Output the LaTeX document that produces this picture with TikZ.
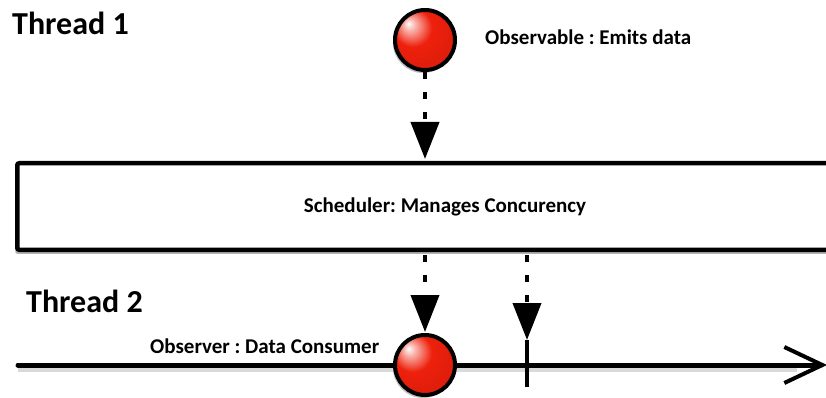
\documentclass[tikz,border=0pt]{standalone}
\usepackage{fontspec}
\setmainfont{Carlito}
\frenchspacing
\usetikzlibrary{arrows.meta,shadows}
\definecolor{ballred}{RGB}{238,32,12}
\pgfdeclareradialshading{redball}{\pgfpoint{-14bp}{14bp}}{%
  color(0bp)=(white);
  color(5bp)=(ballred!35!white);
  color(16bp)=(ballred);
  color(34bp)=(ballred!92!black);
  color(46bp)=(ballred!70!black);
  color(60bp)=(ballred!55!black)}
\begin{document}
\begin{tikzpicture}[x=1pt,y=-1pt,
  thread/.style={font=\bfseries\fontsize{32}{36}\selectfont, anchor=base west, inner sep=0pt},
  lbl/.style={font=\bfseries\fontsize{21}{24}\selectfont, anchor=base west, inner sep=0pt},
  ball/.style={circle, minimum size=60pt, inner sep=0pt, line width=4pt, draw=black,
    shading=redball, drop shadow={shadow xshift=-2pt, shadow yshift=-3pt, opacity=0.25, fill=black}},
  schedbox/.style={draw=black, line width=4.5pt, fill=white, rounded corners=2pt,
    minimum width=855.5pt, minimum height=86.5pt, inner sep=0pt,
    font=\bfseries\fontsize{21}{24}\selectfont,
    drop shadow={shadow xshift=-2pt, shadow yshift=-4pt, opacity=0.3, fill=black}},
  flow/.style={line width=4pt, dash pattern=on 7pt off 13pt,
    -{Triangle[length=37pt, width=28pt]}},
  timeline/.style={line width=5pt, line cap=round,
    -{Straight Barb[length=38pt, width=36pt, line width=4pt]}},
  tickline/.style={line width=4pt},
  shadowline/.style={line width=6pt, draw=black, opacity=0.15}
]
\useasboundingbox (0,0) rectangle (826,398);

% texts
\node[thread] (t1) at (12,35) {Thread 1};
\node[thread] (t2) at (26,312) {Thread 2};

% scheduler box
\node[schedbox] (sched) at (445,206.5) {Scheduler: Manages Concurency};

% timeline
\coordinate (tl0) at (18,365);
\coordinate (tl1) at (827,365);
\coordinate (tk) at (527,365);
\coordinate (tktop) at (527,340);
\coordinate (tkbot) at (527,387);
\draw[shadowline] ([yshift=-4pt]tl0) -- ([yshift=-4pt,xshift=-30pt]tl1);
\draw[timeline] (tl0) -- (tl1);
\draw[tickline] (tktop) -- (tkbot);

% balls
\node[ball] (obs) at (425,40) {};
\node[ball] (cons) at (425,365) {};

% labels
\node[lbl] (obslbl) at (485,45) {Observable : Emits data};
\node[lbl] (conslbl) at (150,353) {Observer : Data Consumer};

% arrows
\draw[flow, shorten >=2pt] (obs.south) -- (obs.south |- sched.north);
\draw[flow, shorten <=3pt, shorten >=1pt] (cons.north |- sched.south) -- (cons.north);
\draw[flow, shorten <=3pt] (tktop |- sched.south) -- (tktop);
\end{tikzpicture}
\end{document}
